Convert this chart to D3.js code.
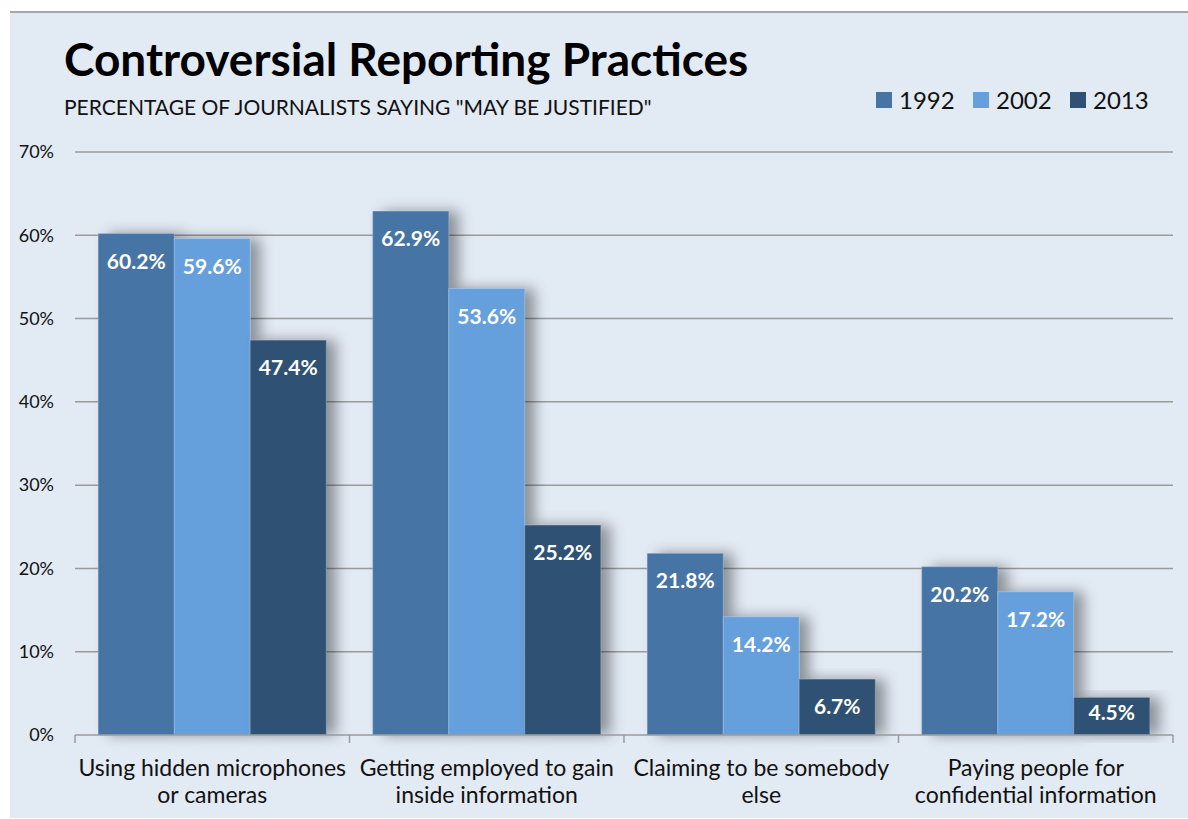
<!DOCTYPE html>
<html>
<head>
<meta charset="utf-8">
<script src="https://cdn.jsdelivr.net/npm/d3@7"></script>
<style>
  body { margin: 0; background: #fff; }
  svg text { font-family: Lato, "Open Sans", sans-serif; }
</style>
</head>
<body>
<div id="chart"></div>
<script>
// Controversial reporting practices - grouped bars by survey year

const categories = [
    ['Using hidden microphones', 'or cameras'],
    ['Getting employed to gain', 'inside information'],
    ['Claiming to be somebody', 'else'],
    ['Paying people for', 'confidential information']
];
const years = ['1992', '2002', '2013'];
const values1992 = [60.2, 62.9, 21.8, 20.2];
const values2002 = [59.6, 53.6, 14.2, 17.2];
const values2013 = [47.4, 25.2, 6.7, 4.5];
const yTicks = [0, 10, 20, 30, 40, 50, 60, 70];
const colors = ['#4674a5', '#65a0dc', '#2f5274'];

const W = 1188, H = 819;
const margin = { top: 152, right: 15, bottom: 84, left: 75 };
const width = W - margin.left - margin.right;
const height = H - margin.top - margin.bottom;

const svg = d3.select('#chart').append('svg')
    .attr('width', W)
    .attr('height', H);

// soft shadow to the right of bars
const defs = svg.append('defs');
const filter = defs.append('filter')
    .attr('id', 'shadow')
    .attr('x', '-20%').attr('y', '-20%')
    .attr('width', '170%').attr('height', '140%');
filter.append('feDropShadow')
    .attr('dx', 10).attr('dy', 0)
    .attr('stdDeviation', 7)
    .attr('flood-color', '#000')
    .attr('flood-opacity', 0.38);

// background panel
svg.append('rect')
    .attr('x', 10).attr('y', 12)
    .attr('width', W - 10).attr('height', 806)
    .attr('fill', '#e2eaf4');
svg.append('line')
    .attr('x1', 10).attr('x2', W)
    .attr('y1', 12).attr('y2', 12)
    .attr('stroke', '#a6a6a6')
    .attr('stroke-width', 2);

// titles
svg.append('text')
    .attr('x', 64).attr('y', 76)
    .style('font-size', '46px')
    .style('font-weight', 'bold')
    .attr('fill', '#000')
    .text('Controversial Reporting Practices');

svg.append('text')
    .attr('x', 64).attr('y', 115)
    .style('font-size', '21px')
    .attr('fill', '#111')
    .text('PERCENTAGE OF JOURNALISTS SAYING "MAY BE JUSTIFIED"');

// legend
const legendX = [876, 973, 1070];
years.forEach((yr, i) => {
    const g = svg.append('g')
        .attr('transform', `translate(${legendX[i]}, 92)`);
    g.append('rect')
        .attr('width', 16).attr('height', 16)
        .attr('fill', colors[i]);
    g.append('text')
        .attr('x', 23).attr('y', 8)
        .attr('dy', '0.36em')
        .style('font-size', '24px')
        .attr('fill', '#111')
        .text(yr);
});

const plot = svg.append('g')
    .attr('transform', `translate(${margin.left},${margin.top})`);

// scales
const x0 = d3.scaleBand()
    .domain(d3.range(categories.length))
    .range([0, width])
    .paddingInner(0)
    .paddingOuter(0);

const x1 = d3.scaleBand()
    .domain(years)
    .range([0, x0.bandwidth()])
    .paddingOuter(0.306)
    .paddingInner(0);

const y = d3.scaleLinear()
    .domain([0, 70])
    .range([height, 0]);

// gridlines
plot.append('g')
    .selectAll('line')
    .data(yTicks.filter(d => d > 0))
    .join('line')
    .attr('x1', 0).attr('x2', width)
    .attr('y1', d => y(d)).attr('y2', d => y(d))
    .attr('stroke', '#9a9a9a')
    .attr('stroke-width', 1.5);

// y axis labels
plot.append('g')
    .selectAll('text')
    .data(yTicks)
    .join('text')
    .attr('x', -21)
    .attr('y', d => y(d))
    .attr('dy', '0.35em')
    .attr('text-anchor', 'end')
    .style('font-size', '18px')
    .attr('fill', '#111')
    .text(d => d + '%');

// bars
const series = [values1992, values2002, values2013];
const rows = [];
categories.forEach((c, ci) => {
    years.forEach((yr, yi) => {
        rows.push({ cat: ci, year: yr, idx: yi, value: series[yi][ci] });
    });
});

const groups = plot.append('g')
    .selectAll('g')
    .data(rows)
    .join('g')
    .attr('transform', d => `translate(${x0(d.cat) + x1(d.year)},0)`);

groups.append('rect')
    .attr('y', d => y(d.value))
    .attr('width', x1.bandwidth())
    .attr('height', d => height - y(d.value))
    .attr('fill', d => colors[d.idx])
    .attr('filter', 'url(#shadow)');

groups.append('rect')
    .attr('y', d => y(d.value))
    .attr('width', x1.bandwidth())
    .attr('height', d => height - y(d.value))
    .attr('fill', d => colors[d.idx])
    .attr('stroke', 'rgba(255,255,255,0.25)')
    .attr('stroke-width', 1);

// value labels sit inside the bar end, kept inside short bars
groups.append('text')
    .attr('x', x1.bandwidth() / 2)
    .attr('y', d => Math.min(y(d.value) + 35, height - 15))
    .attr('text-anchor', 'middle')
    .style('font-size', '21px')
    .style('font-weight', 'bold')
    .attr('fill', '#fff')
    .text(d => d.value.toFixed(1) + '%');

// x axis line and ticks
const xAxis = plot.append('g')
    .attr('transform', `translate(0,${height})`);
xAxis.append('line')
    .attr('x1', 0).attr('x2', width)
    .attr('stroke', '#9a9a9a')
    .attr('stroke-width', 1.5);
xAxis.selectAll('.tick')
    .data(d3.range(categories.length + 1))
    .join('line')
    .attr('class', 'tick')
    .attr('x1', d => d * x0.bandwidth())
    .attr('x2', d => d * x0.bandwidth())
    .attr('y1', 0).attr('y2', 8)
    .attr('stroke', '#9a9a9a')
    .attr('stroke-width', 1.5);

// category labels
const catLabels = xAxis.selectAll('.cat')
    .data(categories)
    .join('text')
    .attr('class', 'cat')
    .attr('text-anchor', 'middle')
    .attr('x', (d, i) => x0(i) + x0.bandwidth() / 2)
    .attr('y', 41)
    .style('font-size', '23px')
    .attr('fill', '#111');

catLabels.selectAll('tspan')
    .data(d => d)
    .join('tspan')
    .attr('x', function() { return d3.select(this.parentNode).attr('x'); })
    .attr('dy', (d, i) => i === 0 ? 0 : 27)
    .text(d => d);
</script>
</body>
</html>
